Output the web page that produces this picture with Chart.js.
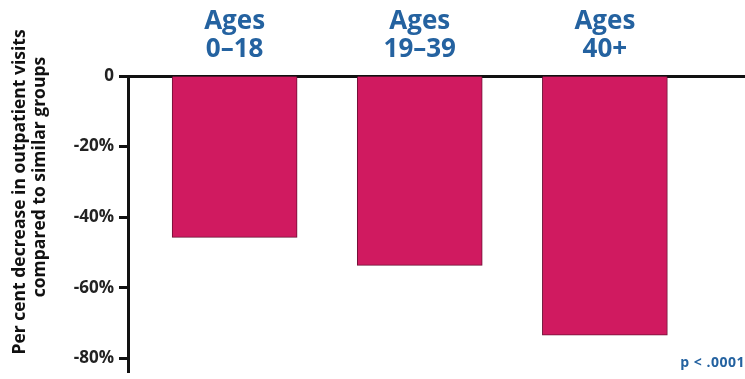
<!DOCTYPE html>
<html>
<head>
<meta charset="utf-8">
<script src="https://cdn.jsdelivr.net/npm/chart.js@4"></script>
<style>
  html, body { margin: 0; padding: 0; background: #fff; }
  #wrap { width: 745px; height: 379px; }
</style>
</head>
<body>
<div id="wrap"><canvas id="chart"></canvas></div>
<script>
const categories = [["Ages", "0–18"], ["Ages", "19–39"], ["Ages", "40+"]];
const positions = [1, 2, 3];
const decrease = [-45.7, -53.6, -73.4];
const yTicks = [0, -20, -40, -60, -80];
const yTitle = ["Per cent decrease in outpatient visits", "compared to similar groups"];
const note = "p < .0001";

const BLUE = "#2462a0";
const FONT = "'Open Sans', 'Noto Sans', sans-serif";

const $ = (id) => document.getElementById(id);

// rotated two-line axis title and the p-value note
const sidePlugin = {
  id: "side",
  afterDraw(chart) {
    const ctx = chart.ctx;
    const area = chart.chartArea;
    ctx.save();
    ctx.fillStyle = "#111";
    ctx.font = "bold 17.5px " + FONT;
    ctx.textAlign = "center";
    ctx.textBaseline = "alphabetic";
    ctx.translate(25, 192);
    ctx.rotate(-Math.PI / 2);
    ctx.fillText(yTitle[0], 0, 0);
    ctx.fillText(yTitle[1], 15, 19.5);
    ctx.restore();

    ctx.save();
    ctx.fillStyle = BLUE;
    ctx.font = "bold 14px " + FONT;
    ctx.letterSpacing = "0.5px";
    ctx.textAlign = "right";
    ctx.textBaseline = "middle";
    ctx.fillText(note, chart.width, area.bottom - 9);
    ctx.restore();
  }
};

new Chart($("chart"), {
  type: "bar",
  data: {
    datasets: [{
      data: positions.map((x, i) => ({ x, y: decrease[i] })),
      backgroundColor: "#d01a60",
      borderColor: "#6e1035",
      borderWidth: 1,
      barThickness: 125
    }]
  },
  options: {
    responsive: true,
    maintainAspectRatio: false,
    animation: false,
    layout: { padding: { left: 0, right: 0, top: 0, bottom: 7 } },
    plugins: { legend: { display: false }, tooltip: { enabled: false } },
    scales: {
      x: {
        type: "linear",
        position: "top",
        offset: false,
        min: 0.424,
        max: 3.757,
        afterBuildTicks: (axis) => { axis.ticks = positions.map((v) => ({ value: v })); },
        afterFit: (axis) => { axis.height = 76; axis.paddingLeft = 0; axis.paddingRight = 0; },
        grid: { display: true, offset: false, drawOnChartArea: false, drawTicks: false },
        border: { display: true, width: 3, color: "#111" },
        ticks: {
          autoSkip: false,
          maxRotation: 0,
          padding: 12,
          color: BLUE,
          font: { family: FONT, size: 26, weight: "bold", lineHeight: 1.08 },
          callback: (v) => categories[positions.indexOf(v)] || ""
        }
      },
      y: {
        min: -83.8,
        max: 0,
        afterBuildTicks: (axis) => { axis.ticks = yTicks.map((v) => ({ value: v })); },
        afterFit: (axis) => { axis.width = 128; axis.paddingTop = 0; axis.paddingBottom = 0; },
        grid: { display: true, drawOnChartArea: false, drawTicks: true, tickLength: 9, tickWidth: 3, tickColor: "#111" },
        border: { display: true, width: 3, color: "#111" },
        ticks: {
          padding: 5,
          color: "#222",
          font: { family: FONT, size: 17, weight: "bold" },
          callback: (v) => (v === 0 ? "0" : v + "%")
        }
      }
    }
  },
  plugins: [sidePlugin]
});
</script>
</body>
</html>
